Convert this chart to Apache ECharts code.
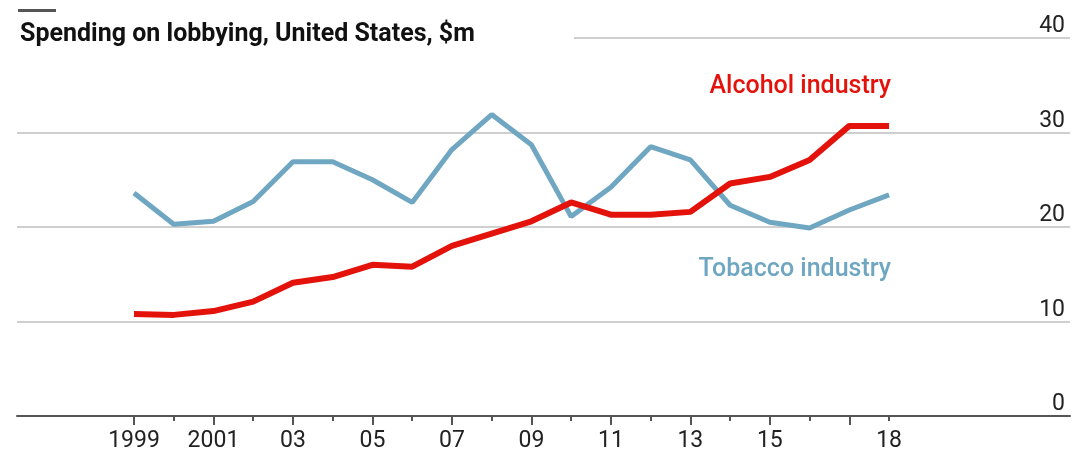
<!DOCTYPE html>
<html>
<head>
<meta charset="utf-8">
<script src="https://cdn.jsdelivr.net/npm/echarts@6/dist/echarts.min.js"></script>
<style>
html, body { margin: 0; padding: 0; background: #fff; }
#chart { width: 1086px; height: 455px; }
</style>
</head>
<body>
<div id="chart"></div>
<script>
var years = [1999, 2000, 2001, 2002, 2003, 2004, 2005, 2006, 2007, 2008, 2009,
  2010, 2011, 2012, 2013, 2014, 2015, 2016, 2017, 2018]
var alcohol = [10.8, 10.7, 11.1, 12.1, 14.1, 14.7, 16.0, 15.8, 18.0, 19.3, 20.6,
  22.6, 21.3, 21.3, 21.6, 24.6, 25.3, 27.1, 30.7, 30.7]
var tobacco = [23.6, 20.3, 20.6, 22.7, 26.9, 26.9, 25.0, 22.6, 28.2, 31.9, 28.7,
  21.1, 24.2, 28.5, 27.1, 22.3, 20.5, 19.9, 21.8, 23.4]
var labelYears = [1999, 2001, 2003, 2005, 2007, 2009, 2011, 2013, 2015, 2018]
var labelTexts = ['1999', '2001', '03', '05', '07', '09', '11', '13', '15', '18']
var majorTicks = [1999, 2001, 2003, 2005, 2007, 2009, 2011, 2013, 2015, 2017]
var minorTicks = [2000, 2002, 2004, 2006, 2008, 2010, 2012, 2014, 2016, 2018]

var font = 'Roboto'
var xMin = 1996.056
var xMax = 2022.553
var topLineFrom = 2010.07

function pairs (vals) {
  return years.map(function (y, i) { return [y, vals[i]] })
}

var myChart = echarts.init(document.getElementById('chart'))

var option = {
  animation: false,
  title: {
    text: 'Spending on lobbying, United States, $m',
    left: 15,
    top: 17,
    textStyle: { fontFamily: font, fontSize: 25, fontWeight: 'bold', color: '#111' }
  },
  graphic: [{
    type: 'rect',
    shape: { x: 18, y: 9, width: 38, height: 3 },
    style: { fill: '#555' }
  }],
  grid: { left: 17, right: 16, top: 38, bottom: 39 },
  xAxis: [{
    type: 'value',
    position: 'bottom',
    min: xMin,
    max: xMax,
    splitLine: { show: false },
    axisLine: { show: true, lineStyle: { color: '#555', width: 2 } },
    axisTick: { show: true, customValues: majorTicks, length: 9, lineStyle: { color: '#555', width: 2 } },
    axisLabel: {
      customValues: labelYears,
      margin: 14,
      fontFamily: font,
      fontSize: 23,
      color: '#222',
      formatter: function (v) {
        var i = labelYears.indexOf(Math.round(v))
        return i >= 0 ? labelTexts[i] : ''
      }
    }
  }, {
    type: 'value',
    position: 'bottom',
    axisLine: { show: false, onZero: false },
    min: xMin,
    max: xMax,
    splitLine: { show: false },
    axisTick: { show: true, customValues: minorTicks, length: 5, lineStyle: { color: '#555', width: 2 } },
    axisLabel: { show: false }
  }],
  yAxis: {
    type: 'value',
    position: 'right',
    min: 0,
    max: 40,
    interval: 10,
    axisLine: { show: false },
    axisTick: { show: false },
    splitLine: {
      show: true,
      lineStyle: { color: ['transparent', '#cfcfcf', '#cfcfcf', '#cfcfcf', 'transparent'], width: 2 }
    },
    axisLabel: {
      inside: true,
      margin: 5,
      verticalAlign: 'bottom',
      fontFamily: font,
      fontSize: 23,
      color: '#222'
    }
  },
  series: [{
    name: 'Tobacco industry',
    type: 'line',
    data: pairs(tobacco),
    symbol: 'none',
    lineStyle: { color: '#6fa6c1', width: 5 },
    endLabel: {
      show: true,
      formatter: 'Tobacco industry',
      align: 'right',
      distance: 0,
      offset: [2, 75],
      fontFamily: font,
      fontSize: 25,
      fontWeight: 500,
      color: '#6fa6c1'
    },
    markLine: {
      silent: true,
      symbol: 'none',
      label: { show: false },
      lineStyle: { color: '#cfcfcf', width: 2, type: 'solid' },
      data: [[{ coord: [topLineFrom, 40] }, { coord: [xMax, 40] }]]
    }
  }, {
    name: 'Alcohol industry',
    type: 'line',
    data: pairs(alcohol),
    symbol: 'none',
    lineStyle: { color: '#e3120b', width: 6 },
    endLabel: {
      show: true,
      formatter: 'Alcohol industry',
      align: 'right',
      distance: 0,
      offset: [2, -39],
      fontFamily: font,
      fontSize: 25,
      fontWeight: 500,
      color: '#e3120b'
    }
  }]
}

myChart.setOption(option)
</script>
</body>
</html>
